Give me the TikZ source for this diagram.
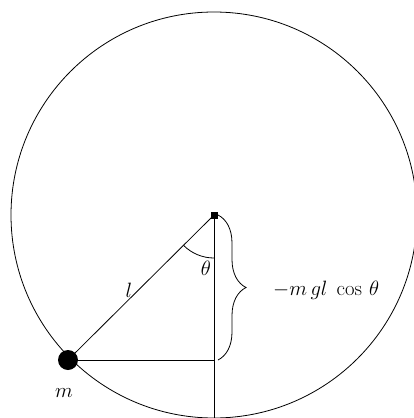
\documentclass[tikz,border=0pt]{standalone}
\usetikzlibrary{decorations.pathreplacing}
\begin{document}
\begin{tikzpicture}[x=1pt,y=-1pt,
  thinline/.style={line width=0.8pt},
  lbl/.style={font=\fontsize{22}{26}\selectfont, inner sep=0pt}]
\useasboundingbox (0,0) rectangle (414,418);
\coordinate (O) at (214,215);
\coordinate (M) at (68,360);
\coordinate (F) at (214,360);
\coordinate (B) at (214,418);
\coordinate (BT) at (218,215);
\coordinate (BB) at (218,360);
\begin{scope}
\clip (0,0) rectangle (414,418);
\draw[thinline] (O) circle[radius=203];
\end{scope}
\draw[thinline] (O) -- (M);
\draw[thinline] (O) -- (B);
\draw[thinline] (M) -- (F);
\draw[thinline] (214,258) arc[start angle=90, end angle=135, radius=43];
\node[fill=black, minimum size=7pt, inner sep=0pt] (piv) at (O) {};
\node[circle, fill=black, minimum size=20pt, inner sep=0pt] (mass) at (M) {};
\draw[thinline, decorate, decoration={brace, amplitude=28pt}] (BT) -- (BB);
\node[lbl] (th) at (206,268) {$\theta$};
\node[lbl] (ll) at (129,290) {$l$};
\node[lbl] (mm) at (64,393) {$m$};
\node[lbl, anchor=west] (ex) at (273,290) {$-m\,gl\;\cos\,\theta$};
\end{tikzpicture}
\end{document}
